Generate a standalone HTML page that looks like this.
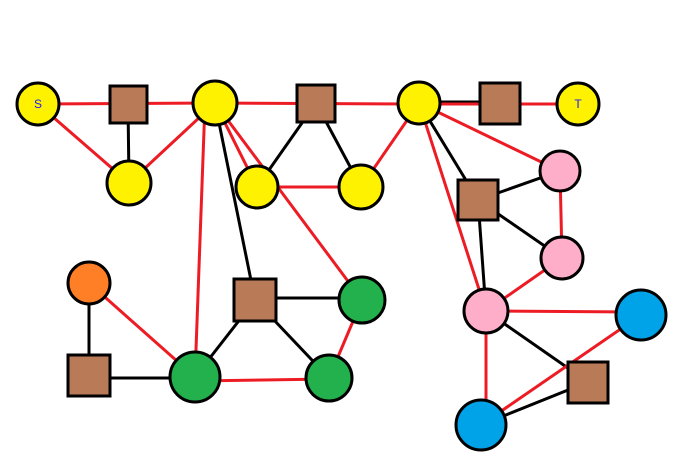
<!DOCTYPE html>
<html><head><style>body{margin:0;background:#fff}svg{display:block}</style></head><body>
<svg width="676" height="473" xmlns="http://www.w3.org/2000/svg">
<g stroke-width="3" fill="none">
<g stroke="#000">
<line x1="128" y1="104" x2="129" y2="183"/>
<line x1="215" y1="103" x2="255" y2="300"/>
<line x1="316" y1="103" x2="257" y2="187"/>
<line x1="316" y1="103" x2="361" y2="187"/>
<line x1="419" y1="103" x2="478" y2="200"/>
<line x1="419" y1="102" x2="500" y2="102"/>
<line x1="478" y1="200" x2="560" y2="171"/>
<line x1="478" y1="200" x2="562" y2="258"/>
<line x1="478" y1="200" x2="486" y2="311"/>
<line x1="486" y1="311" x2="588" y2="382"/>
<line x1="481" y1="425" x2="588" y2="382"/>
<line x1="89" y1="283" x2="89" y2="376"/>
<line x1="89" y1="378" x2="195" y2="378"/>
<line x1="195" y1="377" x2="255" y2="300"/>
<line x1="255" y1="298" x2="362" y2="298"/>
<line x1="255" y1="300" x2="329" y2="378"/>
</g>
<g stroke="#ed1c24">
<line x1="38" y1="104" x2="215" y2="103"/>
<line x1="38" y1="104" x2="129" y2="183"/>
<line x1="129" y1="183" x2="215" y2="103"/>
<line x1="215" y1="103" x2="419" y2="104"/>
<line x1="419" y1="104" x2="500" y2="104"/>
<line x1="500" y1="104" x2="578" y2="104"/>
<line x1="215" y1="103" x2="257" y2="187"/>
<line x1="215" y1="103" x2="362" y2="300"/>
<line x1="205" y1="103" x2="195" y2="377"/>
<line x1="257" y1="187" x2="361" y2="187"/>
<line x1="361" y1="187" x2="419" y2="103"/>
<line x1="419" y1="103" x2="560" y2="171"/>
<line x1="419" y1="103" x2="486" y2="311"/>
<line x1="560" y1="171" x2="562" y2="258"/>
<line x1="562" y1="258" x2="486" y2="311"/>
<line x1="486" y1="311" x2="641" y2="312"/>
<line x1="486" y1="311" x2="486" y2="425"/>
<line x1="481" y1="425" x2="641" y2="315"/>
<line x1="89" y1="283" x2="195" y2="377"/>
<line x1="195" y1="381" x2="329" y2="379"/>
<line x1="362" y1="300" x2="329" y2="378"/>
</g>
</g>
<g stroke="#000" stroke-width="3">
<g fill="#fff200">
<circle cx="38" cy="104" r="21"/><circle cx="215" cy="103" r="22"/><circle cx="419" cy="103" r="21"/>
<circle cx="578" cy="104" r="21"/><circle cx="129" cy="183" r="22"/><circle cx="257" cy="187" r="21"/><circle cx="361" cy="187" r="22"/>
</g>
<g fill="#ffaec9">
<circle cx="560" cy="171" r="20"/><circle cx="562" cy="258" r="21"/><circle cx="486" cy="311" r="22"/>
</g>
<circle cx="89" cy="283" r="21" fill="#ff7f27"/>
<g fill="#22b14c">
<circle cx="362" cy="300" r="23"/><circle cx="195" cy="377" r="25"/><circle cx="329" cy="378" r="23"/>
</g>
<g fill="#00a2e8">
<circle cx="641" cy="315" r="25"/><circle cx="481" cy="425" r="25"/>
</g>
<g fill="#b97a57">
<rect x="110" y="86" width="37" height="37"/>
<rect x="297" y="85" width="38" height="37"/>
<rect x="480" y="83" width="40" height="41"/>
<rect x="458" y="180" width="40" height="40"/>
<rect x="234" y="279" width="42" height="42"/>
<rect x="68" y="355" width="42" height="41"/>
<rect x="568" y="362" width="40" height="41"/>
</g>
</g>
<g font-family="Liberation Sans, sans-serif" font-size="12" fill="#1c1cff" text-anchor="middle">
<text x="38" y="108">S</text><text x="578" y="108">T</text>
</g>
</svg>
</body></html>
